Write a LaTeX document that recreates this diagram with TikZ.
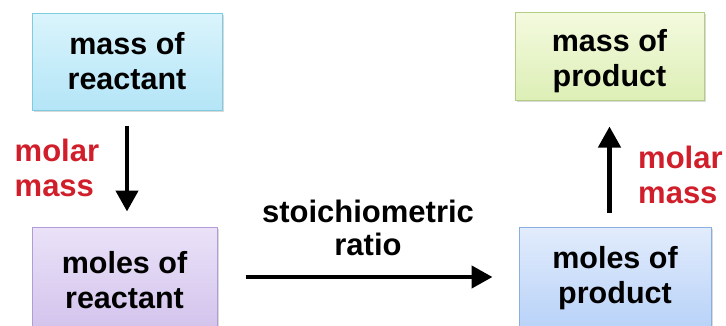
\documentclass[tikz,border=0pt]{standalone}
\usepackage{fontspec}
\setmainfont{Liberation Sans}
\usetikzlibrary{arrows.meta,shadows}
\definecolor{cyanTop}{HTML}{DAF4FC}
\definecolor{cyanBot}{HTML}{B4E5F7}
\definecolor{cyanEdge}{HTML}{7FCBDF}
\definecolor{lilacTop}{HTML}{EAE2F8}
\definecolor{lilacBot}{HTML}{D2C2EC}
\definecolor{lilacEdge}{HTML}{B29CD6}
\definecolor{limeTop}{HTML}{F4FADF}
\definecolor{limeBot}{HTML}{DDEFB6}
\definecolor{limeEdge}{HTML}{B3CD84}
\definecolor{blueTop}{HTML}{E2ECFC}
\definecolor{blueBot}{HTML}{B8D2F8}
\definecolor{blueEdge}{HTML}{8AAEDF}
\definecolor{labelRed}{HTML}{D01E2A}
\tikzset{
  boxtext/.style={align=center, inner sep=0pt,
    font=\fontsize{30.5}{35}\selectfont\bfseries},
  box/.style={boxtext, draw, line width=1pt,
    drop shadow={shadow xshift=1.5pt, shadow yshift=-2pt, opacity=0.25, fill=black!60}},
  flow/.style={line width=4.5pt, -{Triangle[length=21pt, width=22pt]}},
  redlabel/.style={text=labelRed, align=left, inner sep=0pt,
    font=\fontsize{31}{35}\selectfont\bfseries},
  blacklabel/.style={align=center, inner sep=0pt,
    font=\fontsize{31}{33}\selectfont\bfseries}
}
\begin{document}
\begin{tikzpicture}[x=1pt,y=-1pt]
\useasboundingbox (0,0) rectangle (726,325);
\clip (0,0) rectangle (726,325);
% boxes
\node[box, minimum width=190pt, minimum height=97pt, top color=cyanTop, bottom color=cyanBot, draw=cyanEdge]
  (massR) at (127,61.5) {mass of\\reactant};
\node[box, minimum width=185pt, minimum height=106pt, top color=lilacTop, bottom color=lilacBot, draw=lilacEdge]
  (molR) at (124.5,280) {moles of\\reactant};
\node[box, minimum width=189pt, minimum height=88pt, top color=limeTop, bottom color=limeBot, draw=limeEdge]
  (massP) at (609.5,56) {};
\node[boxtext] (massPtext) at (609.5,61.5) {mass of\\product};
\node[box, minimum width=192pt, minimum height=102pt, top color=blueTop, bottom color=blueBot, draw=blueEdge]
  (molP) at (615,278) {moles of\\product};
% connectors
\draw[flow, shorten <=15pt, shorten >=15pt] (massR.south) -- (massR.south |- molR.north);
\draw[flow, shorten <=14pt, shorten >=26pt] (massP.south |- molP.north) -- (massP.south);
\coordinate (hl) at (molR.east |- 0,277);
\coordinate (hr) at (molP.west |- 0,277);
\draw[flow, shorten <=28pt, shorten >=26pt] (hl) -- (hr);
% labels
\node[redlabel, anchor=west] (mmL) at (14.5,168) {molar\\mass};
\node[redlabel, anchor=west] (mmR) at (638,175) {molar\\mass};
\node[blacklabel] (ratio) at (368,228) {stoichiometric\\ratio};
\end{tikzpicture}
\end{document}
